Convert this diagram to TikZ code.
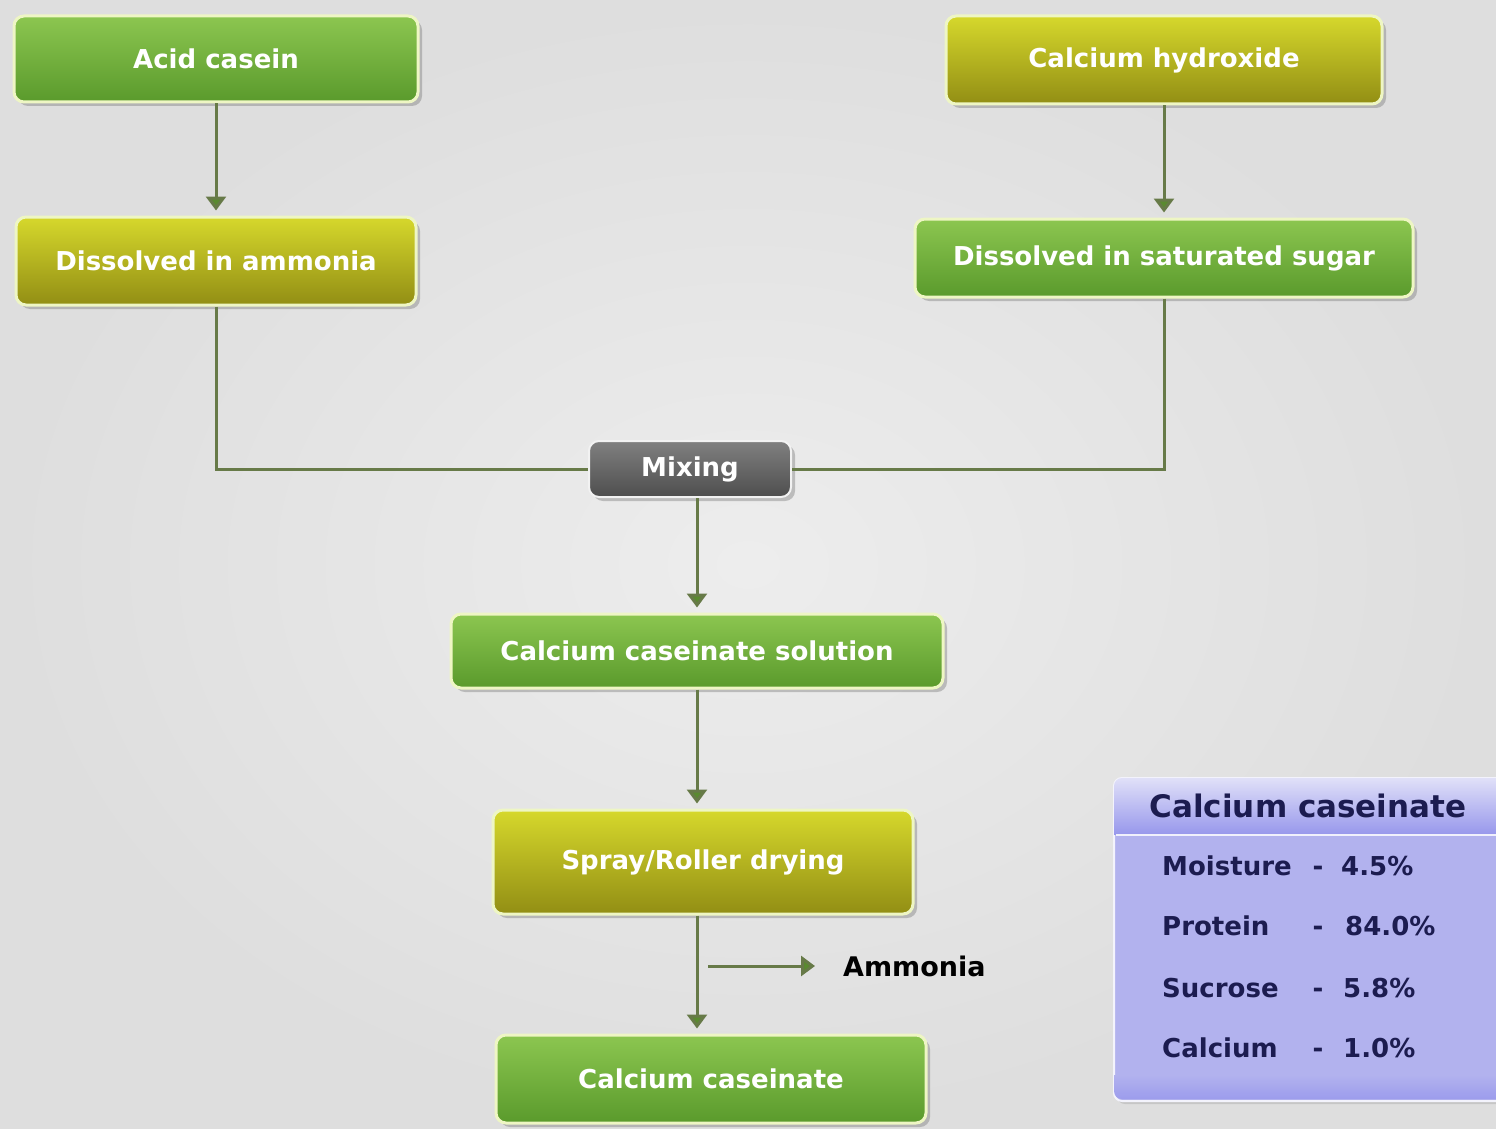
\documentclass[tikz,border=0pt]{standalone}
\usepackage{fontspec}
\setmainfont{DejaVu Sans}
\usetikzlibrary{arrows.meta,shadows,calc}
\definecolor{bgc}{HTML}{E6E6E6}
\definecolor{grtop}{HTML}{8CC650}
\definecolor{grbot}{HTML}{5A9A2C}
\definecolor{yetop}{HTML}{D6D82C}
\definecolor{yebot}{HTML}{928E14}
\definecolor{gytop}{HTML}{808080}
\definecolor{gybot}{HTML}{4E4E4E}
\definecolor{rim}{HTML}{EEF6C4}
\definecolor{conncol}{HTML}{677A48}
\definecolor{tipcol}{HTML}{5A8A30}
\definecolor{lav}{HTML}{B2B2EE}
\definecolor{lavhead}{HTML}{9898EC}
\definecolor{navy}{HTML}{1C1C50}
\tikzset{
  box/.style={rounded corners=10pt, draw=rim, line width=3pt, text=white,
    font=\fontsize{26}{30}\selectfont\bfseries, inner sep=0pt,
    drop shadow={shadow xshift=4pt, shadow yshift=-4pt, opacity=0.35, fill=black!60}},
  greenbox/.style={box, top color=grtop, bottom color=grbot},
  yellowbox/.style={box, top color=yetop, bottom color=yebot},
  graybox/.style={box, draw=white!90!gray, line width=2pt, top color=gytop, bottom color=gybot},
  conn/.style={draw=conncol, line width=3pt},
  arr/.style={conn, -{Triangle[width=20pt,length=14pt,fill=tipcol]}, shorten >=5pt},
  infotxt/.style={text=navy, font=\fontsize{26}{30}\selectfont\bfseries, inner sep=0pt,
    text height=19pt, text depth=5pt},
}
\begin{document}
\begin{tikzpicture}[x=1pt,y=-1pt]
\useasboundingbox (0,0) rectangle (1496,1129);
\clip (0,0) rectangle (1496,1129);
\shade[inner color=black!7, outer color=black!13] (0,0) rectangle (1496,1129);

\node[greenbox, minimum width=404, minimum height=86] (acid) at (216,59) {Acid casein};
\node[yellowbox, minimum width=436, minimum height=88] (hyd) at (1164,60) {Calcium hydroxide};
\node[yellowbox, minimum width=400, minimum height=88] (amm) at (216,261) {Dissolved in ammonia};
\node[greenbox, minimum width=498, minimum height=78] (sugar) at (1164,258) {Dissolved in saturated sugar};
\node[graybox, minimum width=202, minimum height=56] (mix) at (690,469) {Mixing};
\node[greenbox, minimum width=492, minimum height=74] (sol) at (697,651) {Calcium caseinate solution};
\node[yellowbox, minimum width=420, minimum height=104] (dry) at (703,862) {Spray/Roller drying};
\node[greenbox, minimum width=430, minimum height=88] (final) at (711,1079) {Calcium caseinate};

\node[inner sep=0pt, anchor=west, font=\fontsize{27}{30}\selectfont\bfseries] (amlab) at (843,966) {Ammonia};
\coordinate (amstart) at (708,966);

\draw[arr] (acid) -- (amm);
\draw[arr] (hyd) -- (sugar);
\draw[conn] (amm.south) |- (mix.west);
\draw[conn] (sugar.south) |- (mix.east);
\draw[arr] (mix.south -| sol.north) -- (sol.north);
\draw[arr] (sol.south) -- (sol.south |- dry.north);
\draw[arr] (dry.south -| sol.south) -- (final.north -| sol.south);
\draw[arr, shorten >=28pt] (amstart) -- (amlab.west);

% info box
\node[rounded corners=8pt, draw=white!85!lav, line width=2pt, fill=lav,
  minimum width=392, minimum height=323, anchor=north west,
  drop shadow={shadow xshift=3pt, shadow yshift=-3pt, opacity=0.25}] (info) at (1113,777) {};
\begin{scope}
  \clip[rounded corners=8pt] (1114,778) rectangle (1510,1099);
  \shade[top color=white!60!lav, bottom color=lavhead] (1114,778) rectangle (1510,834);
  \shade[top color=lav, bottom color=lavhead!85!lav] (1114,1075) rectangle (1510,1099);
\end{scope}
\draw[white!80!lav, line width=2pt] (1116,835) -- (1510,835);
\node[infotxt, font=\fontsize{31}{34}\selectfont\bfseries, text height=23pt, text depth=7pt] (ihead) at (1308,809) {Calcium caseinate};
\node[infotxt, anchor=west] (r1a) at (1162,868) {Moisture};
\node[infotxt] (r1b) at (1318,868) {-};
\node[infotxt, anchor=west] (r1c) at (1341,868) {4.5\%};
\node[infotxt, anchor=west] (r2a) at (1162,928) {Protein};
\node[infotxt] (r2b) at (1318,928) {-};
\node[infotxt, anchor=west] (r2c) at (1345,928) {84.0\%};
\node[infotxt, anchor=west] (r3a) at (1162,990) {Sucrose};
\node[infotxt] (r3b) at (1318,990) {-};
\node[infotxt, anchor=west] (r3c) at (1343,990) {5.8\%};
\node[infotxt, anchor=west] (r4a) at (1162,1050) {Calcium};
\node[infotxt] (r4b) at (1318,1050) {-};
\node[infotxt, anchor=west] (r4c) at (1343,1050) {1.0\%};
\end{tikzpicture}
\end{document}
